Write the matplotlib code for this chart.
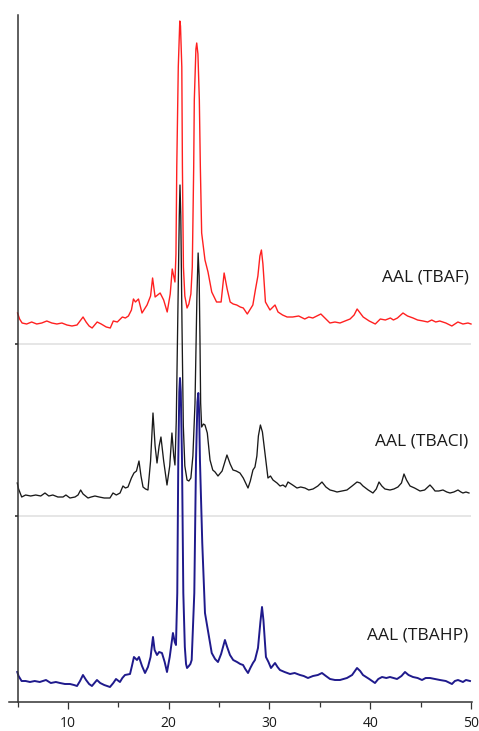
import numpy as np
import matplotlib
matplotlib.use("Agg")
from matplotlib import pyplot as plt

plt.rcParams['font.family'] = ['Open Sans', 'DejaVu Sans']

# XRD patterns, (2theta, intensity a.u.)
red_pts = [(5.0, 31), (5.2, 25), (5.45, 21), (5.9, 20), (6.4, 22), (6.9, 20), (7.4, 21), (7.9, 23),
           (8.4, 21), (8.9, 20), (9.4, 21), (9.9, 19), (10.4, 18), (10.9, 19), (11.2, 23), (11.5, 27),
           (11.8, 22), (12.1, 18), (12.4, 16), (12.9, 22), (13.3, 20), (13.8, 17), (14.2, 16), (14.5, 23),
           (14.9, 22), (15.4, 27), (15.7, 26), (16.0, 28), (16.3, 34), (16.5, 45), (16.7, 42), (17.0, 45),
           (17.35, 31), (17.85, 39), (18.2, 48), (18.4, 66), (18.65, 47), (19.15, 51), (19.5, 44), (19.85, 32),
           (20.15, 50), (20.35, 75), (20.62, 62), (20.72, 90), (20.8, 177), (20.95, 277), (21.1, 323),
           (21.17, 318), (21.3, 277), (21.36, 177), (21.46, 77), (21.6, 48), (21.82, 36), (22.0, 40),
           (22.2, 50), (22.34, 77), (22.48, 177), (22.54, 244), (22.7, 295), (22.78, 301), (22.9, 290),
           (23.04, 244), (23.14, 177), (23.27, 111), (23.6, 84), (23.9, 72), (24.27, 52), (24.75, 42),
           (25.2, 42), (25.5, 71), (25.8, 55), (26.1, 42), (26.4, 40), (26.75, 39), (27.1, 37), (27.4, 36),
           (27.8, 30), (28.1, 35), (28.35, 39), (28.6, 54), (28.85, 68), (29.05, 88), (29.2, 94), (29.35, 80),
           (29.6, 42), (30.05, 34), (30.55, 39), (30.85, 32), (31.3, 29), (31.75, 27), (32.3, 27), (32.9, 28),
           (33.5, 25), (33.9, 27), (34.3, 26), (34.7, 28), (35.1, 30), (35.6, 25), (36.0, 21), (36.5, 22),
           (37.0, 21), (37.5, 23), (38.0, 25), (38.4, 29), (38.7, 35), (39.0, 31), (39.3, 27), (39.9, 23),
           (40.5, 20), (41.0, 25), (41.5, 24), (42.0, 26), (42.3, 24), (42.7, 26), (43.25, 31), (43.7, 28),
           (44.25, 26), (44.7, 24), (45.25, 23), (45.7, 22), (46.1, 24), (46.5, 22), (46.9, 23), (47.5, 21),
           (48.1, 18), (48.7, 22), (49.2, 20), (49.7, 21), (50.0, 20)]

black_pts = [(4.97, 33), (5.1, 27), (5.41, 19), (5.8, 21), (6.3, 20), (6.8, 21), (7.3, 20), (7.72, 23),
             (8.1, 20), (8.5, 21), (9.0, 19), (9.51, 19), (9.8, 21), (10.2, 18), (10.7, 19), (11.0, 21),
             (11.26, 26), (11.5, 22), (11.99, 18), (12.3, 19), (12.68, 20), (13.1, 19), (13.6, 18), (14.17, 18),
             (14.47, 23), (14.8, 21), (15.17, 23), (15.46, 30), (15.7, 28), (15.96, 29), (16.3, 38), (16.55, 43),
             (16.8, 45), (17.05, 55), (17.25, 40), (17.45, 29), (17.7, 27), (17.94, 26), (18.2, 55), (18.44, 103),
             (18.65, 70), (18.84, 53), (19.05, 70), (19.23, 79), (19.5, 55), (19.83, 31), (20.1, 50), (20.32, 83),
             (20.5, 60), (20.62, 51), (20.75, 95), (20.9, 200), (21.05, 300), (21.12, 331), (21.2, 300),
             (21.32, 190), (21.45, 90), (21.6, 50), (21.82, 36), (22.0, 35), (22.2, 38), (22.4, 60), (22.61, 113),
             (22.8, 220), (22.92, 263), (23.02, 240), (23.1, 179), (23.17, 113), (23.27, 89), (23.45, 92),
             (23.6, 91), (23.83, 83), (24.1, 56), (24.37, 46), (24.6, 44), (24.89, 40), (25.3, 45), (25.78, 61),
             (26.1, 52), (26.38, 46), (26.7, 45), (27.07, 43), (27.4, 38), (27.87, 28), (28.1, 35), (28.36, 46),
             (28.56, 49), (28.75, 60), (28.9, 80), (29.1, 91), (29.3, 84), (29.55, 63), (29.85, 38), (30.1, 40),
             (30.35, 36), (30.75, 33), (31.05, 30), (31.34, 31), (31.6, 29), (31.84, 34), (32.3, 31), (32.73, 28),
             (33.1, 29), (33.52, 28), (33.9, 26), (34.32, 27), (34.8, 30), (35.21, 34), (35.6, 29), (36.01, 26),
             (36.4, 25), (36.7, 24), (37.2, 25), (37.69, 26), (38.2, 30), (38.69, 34), (39.0, 33), (39.28, 30),
             (39.8, 26), (40.27, 23), (40.6, 27), (40.87, 34), (41.15, 30), (41.46, 27), (41.96, 26), (42.35, 27),
             (42.75, 29), (43.1, 33), (43.35, 42), (43.6, 36), (43.95, 30), (44.4, 28), (44.94, 25), (45.4, 26),
             (45.93, 31), (46.2, 28), (46.43, 25), (46.8, 25), (47.22, 26), (47.6, 24), (47.92, 23), (48.3, 24),
             (48.71, 26), (49.0, 24), (49.2, 23), (49.5, 24), (49.8, 23)]

blue_pts = [(4.97, 30), (5.1, 26), (5.4, 21), (5.8, 21), (6.23, 20), (6.7, 21), (7.2, 20), (7.82, 22),
            (8.3, 19), (8.8, 20), (9.21, 19), (9.7, 18), (10.2, 18), (10.6, 17), (10.9, 16), (11.2, 21),
            (11.49, 27), (11.8, 22), (12.1, 18), (12.38, 16), (12.88, 22), (13.2, 19), (13.6, 17), (14.17, 15),
            (14.5, 19), (14.77, 23), (15.16, 20), (15.4, 24), (15.66, 27), (16.16, 28), (16.35, 36), (16.55, 45),
            (16.85, 42), (17.05, 45), (17.35, 36), (17.65, 29), (17.94, 35), (18.2, 45), (18.44, 65), (18.6, 52),
            (18.84, 47), (19.05, 50), (19.33, 49), (19.6, 40), (19.83, 30), (20.1, 45), (20.42, 69), (20.6, 60),
            (20.72, 57), (20.85, 109), (20.95, 242), (21.05, 310), (21.12, 324), (21.2, 310), (21.32, 242),
            (21.45, 109), (21.6, 55), (21.72, 38), (21.82, 34), (22.0, 36), (22.15, 38), (22.28, 42), (22.54, 109),
            (22.71, 242), (22.85, 300), (22.94, 309), (23.02, 290), (23.1, 242), (23.33, 159), (23.6, 89),
            (23.93, 69), (24.27, 49), (24.6, 43), (24.89, 40), (25.2, 48), (25.58, 62), (25.8, 55), (26.08, 47),
            (26.4, 42), (26.78, 40), (27.1, 38), (27.38, 37), (27.6, 33), (27.87, 29), (28.1, 34), (28.36, 39),
            (28.56, 42), (28.86, 54), (29.1, 80), (29.26, 95), (29.4, 82), (29.65, 45), (29.9, 40), (30.15, 34),
            (30.55, 39), (30.8, 35), (31.04, 32), (31.5, 30), (32.04, 28), (32.5, 29), (33.03, 27), (33.4, 26),
            (33.82, 24), (34.32, 26), (34.8, 27), (35.21, 29), (35.6, 26), (36.01, 23), (36.5, 22), (37.0, 22),
            (37.35, 23), (37.69, 24), (38.2, 27), (38.69, 34), (39.0, 31), (39.28, 27), (39.9, 23), (40.47, 19),
            (40.8, 23), (41.17, 25), (41.6, 24), (41.96, 25), (42.3, 24), (42.66, 23), (43.1, 26), (43.45, 30),
            (43.8, 27), (44.24, 25), (44.7, 24), (45.14, 22), (45.5, 24), (45.93, 24), (46.4, 23), (46.92, 22),
            (47.5, 21), (48.11, 18), (48.4, 21), (48.71, 22), (49.2, 20), (49.5, 22), (49.9, 21)]

labels = ["AAL (TBAF)", "AAL (TBACl)", "AAL (TBAHP)"]
offsets = [358, 186, 0]
label_y = [424, 260, 67]
colors = ["#ff2020", "#1a1a1a", "#1f1a8c"]
widths = [1.0, 0.95, 1.4]
separators = [186, 358]

fig = plt.figure(figsize=(4.79, 7.31), dpi=100)
ax = fig.add_axes([9/479, 29/731, 463/479, 687/731])

for pts, off, c, lw in zip([red_pts, black_pts, blue_pts], offsets, colors, widths):
    tt = np.array([p[0] for p in pts])
    inten = np.array([p[1] for p in pts])
    ax.plot(tt, inten + off, color=c, lw=lw, solid_joinstyle='round')

# light grey panel dividers
for s in separators:
    ax.hlines(s, 5, 50, color="#e6e6e6", lw=1.4, zorder=0)

for lab, ly in zip(labels, label_y):
    ax.text(49.75, ly, lab, ha='right', va='center', fontsize=12.5, color="#1a1a1a")

ax.set_xlim(4.15, 50.1)
ax.set_ylim(0, 687)
ax.spines['top'].set_visible(False)
ax.spines['right'].set_visible(False)
ax.spines['left'].set_position(('data', 5))
for sp in ['left', 'bottom']:
    ax.spines[sp].set_color("#333333")
    ax.spines[sp].set_linewidth(1.1)

ax.set_xticks([10, 20, 30, 40, 50])
ax.set_xticks([5, 15, 25, 35, 45], minor=True)
ax.tick_params(axis='x', which='major', length=5, width=0.9, color="#333333",
               labelsize=10, pad=5, labelcolor="#1a1a1a")
ax.tick_params(axis='x', which='minor', length=3.5, width=0.9, color="#333333")
ax.set_yticks(separators)
ax.set_yticklabels([])
ax.tick_params(axis='y', length=2, width=1.2, color="#333333")

fig.savefig("out.png", dpi=100)
